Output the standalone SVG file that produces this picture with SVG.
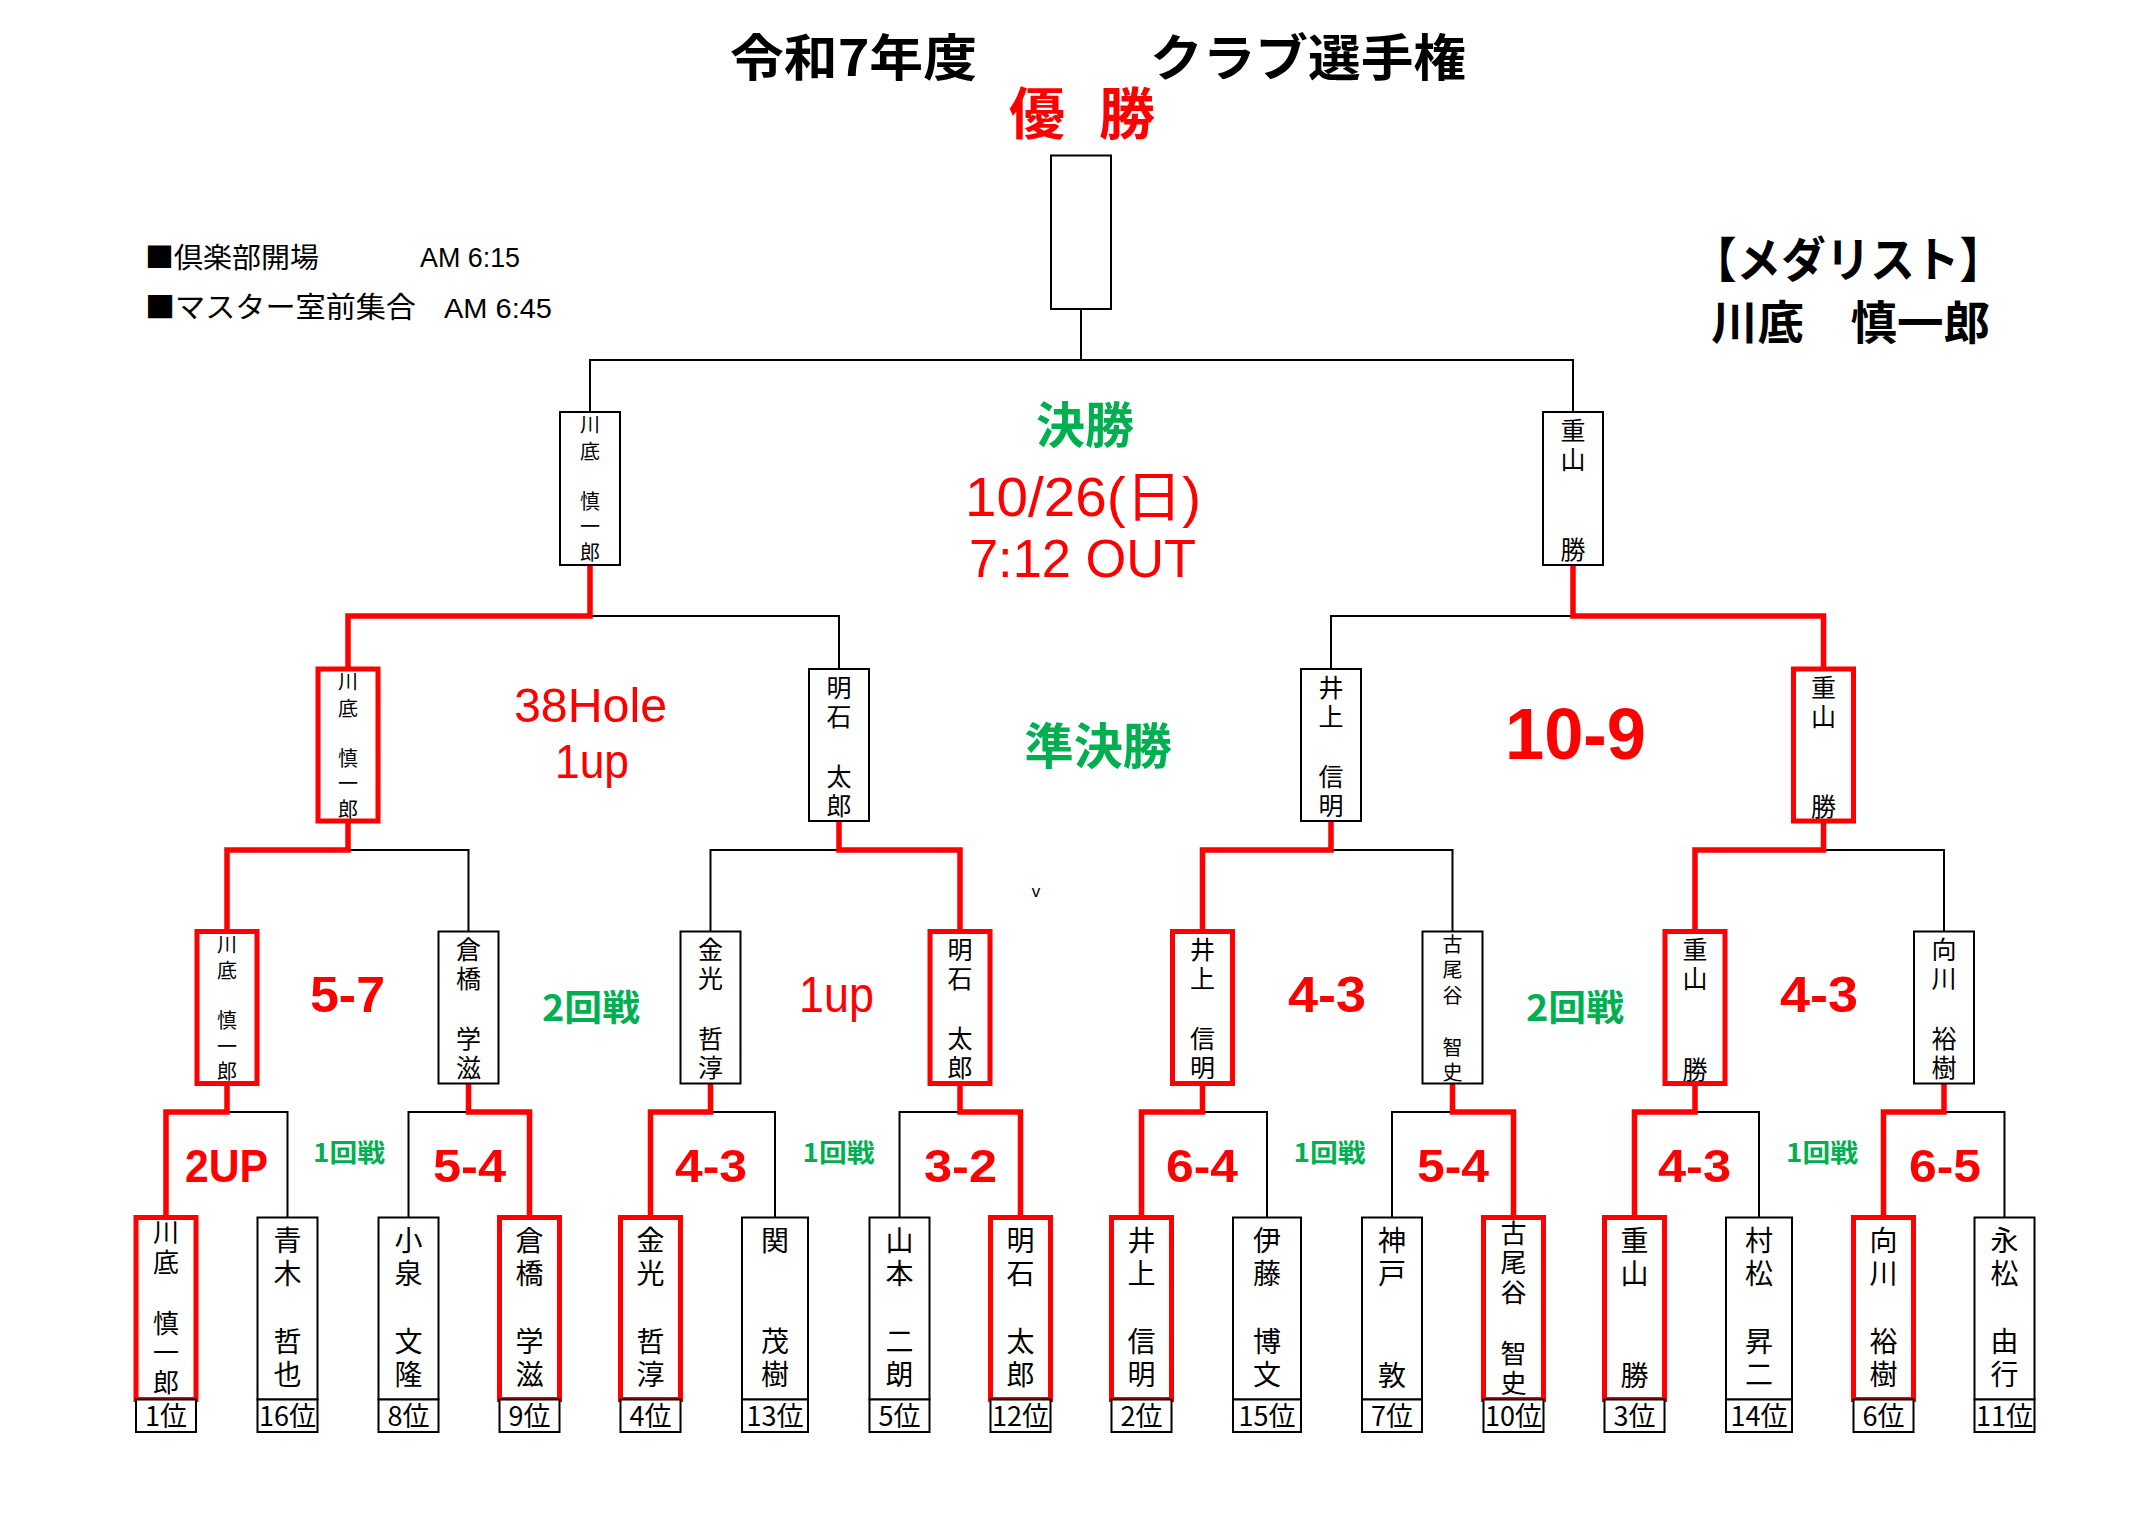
<svg xmlns="http://www.w3.org/2000/svg" width="2150" height="1518" viewBox="0 0 2150 1518">
<style>
.b{fill:#fff;stroke:#000;stroke-width:2}
.w{fill:#fff;stroke:#f00;stroke-width:5}
.k{fill:none;stroke:#000;stroke-width:2}
.r{fill:none;stroke:#f00;stroke-width:5.5;stroke-linejoin:miter}
.jp{font-family:"Noto Sans CJK JP","Noto Sans CJK SC",sans-serif;fill:#000}
.v{font-family:"Noto Sans CJK JP","Noto Sans CJK SC",sans-serif;fill:#000;writing-mode:vertical-rl;text-anchor:start}
.f28{font-size:28px;letter-spacing:5px}
.f26{font-size:26px;letter-spacing:4px}
.f25{font-size:25px;letter-spacing:4px}
.f20{font-size:20px;letter-spacing:6px}
.rk{font-size:27px;text-anchor:middle}
.la{font-family:"Liberation Sans",Arial,"Noto Sans CJK JP",sans-serif}
.sc{font-weight:bold;fill:#f00}
.sn{fill:#f00}
.s47{font-size:47px}
.s50{font-size:50px}
.gr{font-family:"Noto Sans CJK JP",sans-serif;font-weight:bold;fill:#00b050}
</style>
<rect width="2150" height="1518" fill="#fff"/>

<g id="header">
<text class="jp" x="730" y="75.5" font-size="50" font-weight="bold" textLength="247" lengthAdjust="spacingAndGlyphs">令和7年度</text>
<text class="jp" x="1150" y="75.5" font-size="50" font-weight="bold" textLength="316" lengthAdjust="spacingAndGlyphs">クラブ選手権</text>
<text class="jp" x="1009" y="134" font-size="56" font-weight="bold" style="fill:#f00" textLength="146" lengthAdjust="spacing">優　勝</text>
<text class="jp" x="145" y="268" font-size="28" textLength="174" lengthAdjust="spacingAndGlyphs">■倶楽部開場</text>
<text class="la" x="420" y="267" font-size="28" textLength="100" lengthAdjust="spacingAndGlyphs">AM 6:15</text>
<text class="jp" x="145" y="318" font-size="29" textLength="271" lengthAdjust="spacingAndGlyphs">■マスター室前集合</text>
<text class="la" x="444" y="318" font-size="28" textLength="108" lengthAdjust="spacingAndGlyphs">AM 6:45</text>
<text class="jp" x="1692" y="277" font-size="48" font-weight="bold" textLength="312" lengthAdjust="spacingAndGlyphs">【メダリスト】</text>
<text class="jp" x="1711" y="339" font-size="46" font-weight="bold" textLength="279" lengthAdjust="spacingAndGlyphs">川底　慎一郎</text>
</g>

<g id="labels">
<text class="gr" x="1036" y="442.6" font-size="49" textLength="98" lengthAdjust="spacingAndGlyphs">決勝</text>
<text class="la sn" x="965" y="516" font-size="55" textLength="236" lengthAdjust="spacingAndGlyphs">10/26(日)</text>
<text class="la sn" x="969" y="576.5" font-size="54" textLength="227" lengthAdjust="spacingAndGlyphs">7:12 OUT</text>
<text class="gr" x="1024.5" y="764" font-size="49" textLength="147.5" lengthAdjust="spacingAndGlyphs">準決勝</text>
<text class="la sn" x="514" y="722" font-size="49" textLength="153" lengthAdjust="spacingAndGlyphs">38Hole</text>
<text class="la sn" x="555" y="778" font-size="49" textLength="74" lengthAdjust="spacingAndGlyphs">1up</text>
<text class="la sc" x="1505" y="758.6" font-size="72" textLength="141" lengthAdjust="spacingAndGlyphs">10-9</text>
<text class="la sc s50" x="310" y="1012" textLength="75" lengthAdjust="spacingAndGlyphs">5-7</text>
<text class="la sn s50" x="799" y="1012" textLength="75" lengthAdjust="spacingAndGlyphs">1up</text>
<text class="la sc s50" x="1288" y="1012" textLength="78" lengthAdjust="spacingAndGlyphs">4-3</text>
<text class="la sc s50" x="1780" y="1012" textLength="78" lengthAdjust="spacingAndGlyphs">4-3</text>
<text class="gr" x="542" y="1020.5" font-size="36" textLength="98" lengthAdjust="spacingAndGlyphs">2回戦</text>
<text class="gr" x="1526" y="1020.5" font-size="36" textLength="98" lengthAdjust="spacingAndGlyphs">2回戦</text>
<text class="la" x="1036" y="897" font-size="17" text-anchor="middle">v</text>
<text class="la sc s47" x="185" y="1182" textLength="83" lengthAdjust="spacingAndGlyphs">2UP</text>
<text class="la sc s47" x="433" y="1182" textLength="73" lengthAdjust="spacingAndGlyphs">5-4</text>
<text class="la sc s47" x="675" y="1182" textLength="72" lengthAdjust="spacingAndGlyphs">4-3</text>
<text class="la sc s47" x="924" y="1182" textLength="73" lengthAdjust="spacingAndGlyphs">3-2</text>
<text class="la sc s47" x="1166" y="1182" textLength="72" lengthAdjust="spacingAndGlyphs">6-4</text>
<text class="la sc s47" x="1417" y="1182" textLength="72" lengthAdjust="spacingAndGlyphs">5-4</text>
<text class="la sc s47" x="1658" y="1182" textLength="73" lengthAdjust="spacingAndGlyphs">4-3</text>
<text class="la sc s47" x="1909" y="1182" textLength="72" lengthAdjust="spacingAndGlyphs">6-5</text>
<text class="gr" x="313" y="1161.5" font-size="25" textLength="72" lengthAdjust="spacingAndGlyphs">1回戦</text>
<text class="gr" x="802.5" y="1161.5" font-size="25" textLength="72" lengthAdjust="spacingAndGlyphs">1回戦</text>
<text class="gr" x="1293.5" y="1161.5" font-size="25" textLength="72" lengthAdjust="spacingAndGlyphs">1回戦</text>
<text class="gr" x="1786" y="1161.5" font-size="25" textLength="72" lengthAdjust="spacingAndGlyphs">1回戦</text>
</g>

<g id="connectors">
<path class="k" d="M590,412V360H1573V412M1081,309V360"/>
<path class="k" d="M839,669V616H590M1331,669V616H1573"/>
<path class="k" d="M468.5,931.5V850H348M710.5,931.5V850H839M1452.5,931.5V850H1331M1944,931.5V850H1823.5"/>
<path class="k" d="M287.5,1217.5V1112H227M408.5,1217.5V1112H468.5M775,1217.5V1112H710.5M899.5,1217.5V1112H960M1267,1217.5V1112H1202.5M1392,1217.5V1112H1452.5M1759,1217.5V1112H1695M2004.5,1217.5V1112H1944"/>
<path class="r" d="M348,669V616H590V565"/>
<path class="r" d="M1823.5,669V616H1573V565"/>
<path class="r" d="M227,931.5V850H348V821"/>
<path class="r" d="M960,931.5V850H839V821"/>
<path class="r" d="M1202.5,931.5V850H1331V821"/>
<path class="r" d="M1695,931.5V850H1823.5V821"/>
<path class="r" d="M166,1217.5V1112H227V1083.5"/>
<path class="r" d="M529.5,1217.5V1112H468.5V1083.5"/>
<path class="r" d="M650.5,1217.5V1112H710.5V1083.5"/>
<path class="r" d="M1020.5,1217.5V1112H960V1083.5"/>
<path class="r" d="M1141.5,1217.5V1112H1202.5V1083.5"/>
<path class="r" d="M1513.5,1217.5V1112H1452.5V1083.5"/>
<path class="r" d="M1634.5,1217.5V1112H1695V1083.5"/>
<path class="r" d="M1883.5,1217.5V1112H1944V1083.5"/>
</g>

<g id="champion"><rect class="b" x="1051" y="155.5" width="60" height="153.5"/></g>

<g id="final-1"><rect class="b" x="560" y="412" width="60" height="153"/>
<text class="v f20" x="590" y="414.5" style="letter-spacing:6.5px">川底</text><text class="v f20" x="590" y="491" style="letter-spacing:5.5px">慎一郎</text></g>
<g id="final-2"><rect class="b" x="1543" y="412" width="60" height="153"/>
<text class="v f25" x="1573" y="417.5">重山</text><text class="v f25" x="1573" y="537">勝</text></g>

<g id="semi-1"><rect class="w" x="318" y="669" width="60" height="152"/>
<text class="v f20" x="348" y="671.5" style="letter-spacing:6.5px">川底</text><text class="v f20" x="348" y="748" style="letter-spacing:5.5px">慎一郎</text></g>
<g id="semi-2"><rect class="b" x="809" y="669" width="60" height="152"/>
<text class="v f25" x="839" y="674.5">明石</text><text class="v f25" x="839" y="763.5">太郎</text></g>
<g id="semi-3"><rect class="b" x="1301" y="669" width="60" height="152"/>
<text class="v f25" x="1331" y="674.5">井上</text><text class="v f25" x="1331" y="763.5">信明</text></g>
<g id="semi-4"><rect class="w" x="1793.5" y="669" width="60" height="152"/>
<text class="v f25" x="1823.5" y="674.5">重山</text><text class="v f25" x="1823.5" y="794">勝</text></g>

<g id="r2-1"><rect class="w" x="197" y="931.5" width="60" height="152"/>
<text class="v f20" x="227" y="934" style="letter-spacing:6.5px">川底</text><text class="v f20" x="227" y="1010.5" style="letter-spacing:5.5px">慎一郎</text></g>
<g id="r2-2"><rect class="b" x="438.5" y="931.5" width="60" height="152"/>
<text class="v f25" x="468.5" y="937">倉橋</text><text class="v f25" x="468.5" y="1026">学滋</text></g>
<g id="r2-3"><rect class="b" x="680.5" y="931.5" width="60" height="152"/>
<text class="v f25" x="710.5" y="937">金光</text><text class="v f25" x="710.5" y="1026">哲淳</text></g>
<g id="r2-4"><rect class="w" x="930" y="931.5" width="60" height="152"/>
<text class="v f25" x="960" y="937">明石</text><text class="v f25" x="960" y="1026">太郎</text></g>
<g id="r2-5"><rect class="w" x="1172.5" y="931.5" width="60" height="152"/>
<text class="v f25" x="1202.5" y="937">井上</text><text class="v f25" x="1202.5" y="1026">信明</text></g>
<g id="r2-6"><rect class="b" x="1422.5" y="931.5" width="60" height="152"/>
<text class="v f20" x="1452.5" y="934" style="letter-spacing:5.5px">古尾谷</text><text class="v f20" x="1452.5" y="1037" style="letter-spacing:5px">智史</text></g>
<g id="r2-7"><rect class="w" x="1665" y="931.5" width="60" height="152"/>
<text class="v f25" x="1695" y="937">重山</text><text class="v f25" x="1695" y="1056.5">勝</text></g>
<g id="r2-8"><rect class="b" x="1914" y="931.5" width="60" height="152"/>
<text class="v f25" x="1944" y="937">向川</text><text class="v f25" x="1944" y="1026">裕樹</text></g>

<g id="p1"><rect class="w" x="136" y="1217.5" width="60" height="182"/><rect class="b" x="136" y="1399.5" width="60" height="32.5"/>
<text class="v f26" x="166" y="1219">川底</text><text class="v f26" x="166" y="1310" style="letter-spacing:3.5px">慎一郎</text>
<text class="jp rk" x="166" y="1426">1位</text></g>
<g id="p16"><rect class="b" x="257.5" y="1217.5" width="60" height="182"/><rect class="b" x="257.5" y="1399.5" width="60" height="32.5"/>
<text class="v f28" x="287.5" y="1226">青木</text><text class="v f28" x="287.5" y="1327">哲也</text>
<text class="jp rk" x="287.5" y="1426">16位</text></g>
<g id="p8"><rect class="b" x="378.5" y="1217.5" width="60" height="182"/><rect class="b" x="378.5" y="1399.5" width="60" height="32.5"/>
<text class="v f28" x="408.5" y="1226">小泉</text><text class="v f28" x="408.5" y="1327">文隆</text>
<text class="jp rk" x="408.5" y="1426">8位</text></g>
<g id="p9"><rect class="w" x="499.5" y="1217.5" width="60" height="182"/><rect class="b" x="499.5" y="1399.5" width="60" height="32.5"/>
<text class="v f28" x="529.5" y="1226">倉橋</text><text class="v f28" x="529.5" y="1327">学滋</text>
<text class="jp rk" x="529.5" y="1426">9位</text></g>
<g id="p4"><rect class="w" x="620.5" y="1217.5" width="60" height="182"/><rect class="b" x="620.5" y="1399.5" width="60" height="32.5"/>
<text class="v f28" x="650.5" y="1226">金光</text><text class="v f28" x="650.5" y="1327">哲淳</text>
<text class="jp rk" x="650.5" y="1426">4位</text></g>
<g id="p13"><rect class="b" x="742" y="1217.5" width="66" height="182"/><rect class="b" x="742" y="1399.5" width="66" height="32.5"/>
<text class="v f28" x="775" y="1226">関</text><text class="v f28" x="775" y="1327">茂樹</text>
<text class="jp rk" x="775" y="1426">13位</text></g>
<g id="p5"><rect class="b" x="869.5" y="1217.5" width="60" height="182"/><rect class="b" x="869.5" y="1399.5" width="60" height="32.5"/>
<text class="v f28" x="899.5" y="1226">山本</text><text class="v f28" x="899.5" y="1327">二朗</text>
<text class="jp rk" x="899.5" y="1426">5位</text></g>
<g id="p12"><rect class="w" x="990.5" y="1217.5" width="60" height="182"/><rect class="b" x="990.5" y="1399.5" width="60" height="32.5"/>
<text class="v f28" x="1020.5" y="1226">明石</text><text class="v f28" x="1020.5" y="1327">太郎</text>
<text class="jp rk" x="1020.5" y="1426">12位</text></g>
<g id="p2"><rect class="w" x="1111.5" y="1217.5" width="60" height="182"/><rect class="b" x="1111.5" y="1399.5" width="60" height="32.5"/>
<text class="v f28" x="1141.5" y="1226">井上</text><text class="v f28" x="1141.5" y="1327">信明</text>
<text class="jp rk" x="1141.5" y="1426">2位</text></g>
<g id="p15"><rect class="b" x="1233" y="1217.5" width="68" height="182"/><rect class="b" x="1233" y="1399.5" width="68" height="32.5"/>
<text class="v f28" x="1267" y="1226">伊藤</text><text class="v f28" x="1267" y="1327">博文</text>
<text class="jp rk" x="1267" y="1426">15位</text></g>
<g id="p7"><rect class="b" x="1362" y="1217.5" width="60" height="182"/><rect class="b" x="1362" y="1399.5" width="60" height="32.5"/>
<text class="v f28" x="1392" y="1226">神戸</text><text class="v f28" x="1392" y="1361">敦</text>
<text class="jp rk" x="1392" y="1426">7位</text></g>
<g id="p10"><rect class="w" x="1483.5" y="1217.5" width="60" height="182"/><rect class="b" x="1483.5" y="1399.5" width="60" height="32.5"/>
<text class="v f26" x="1513.5" y="1220" style="letter-spacing:3.5px">古尾谷</text><text class="v f26" x="1513.5" y="1340">智史</text>
<text class="jp rk" x="1513.5" y="1426">10位</text></g>
<g id="p3"><rect class="w" x="1604.5" y="1217.5" width="60" height="182"/><rect class="b" x="1604.5" y="1399.5" width="60" height="32.5"/>
<text class="v f28" x="1634.5" y="1226">重山</text><text class="v f28" x="1634.5" y="1361">勝</text>
<text class="jp rk" x="1634.5" y="1426">3位</text></g>
<g id="p14"><rect class="b" x="1726" y="1217.5" width="66" height="182"/><rect class="b" x="1726" y="1399.5" width="66" height="32.5"/>
<text class="v f28" x="1759" y="1226">村松</text><text class="v f28" x="1759" y="1327">昇二</text>
<text class="jp rk" x="1759" y="1426">14位</text></g>
<g id="p6"><rect class="w" x="1853.5" y="1217.5" width="60" height="182"/><rect class="b" x="1853.5" y="1399.5" width="60" height="32.5"/>
<text class="v f28" x="1883.5" y="1226">向川</text><text class="v f28" x="1883.5" y="1327">裕樹</text>
<text class="jp rk" x="1883.5" y="1426">6位</text></g>
<g id="p11"><rect class="b" x="1974.5" y="1217.5" width="60" height="182"/><rect class="b" x="1974.5" y="1399.5" width="60" height="32.5"/>
<text class="v f28" x="2004.5" y="1226">永松</text><text class="v f28" x="2004.5" y="1327">由行</text>
<text class="jp rk" x="2004.5" y="1426">11位</text></g>
</svg>
